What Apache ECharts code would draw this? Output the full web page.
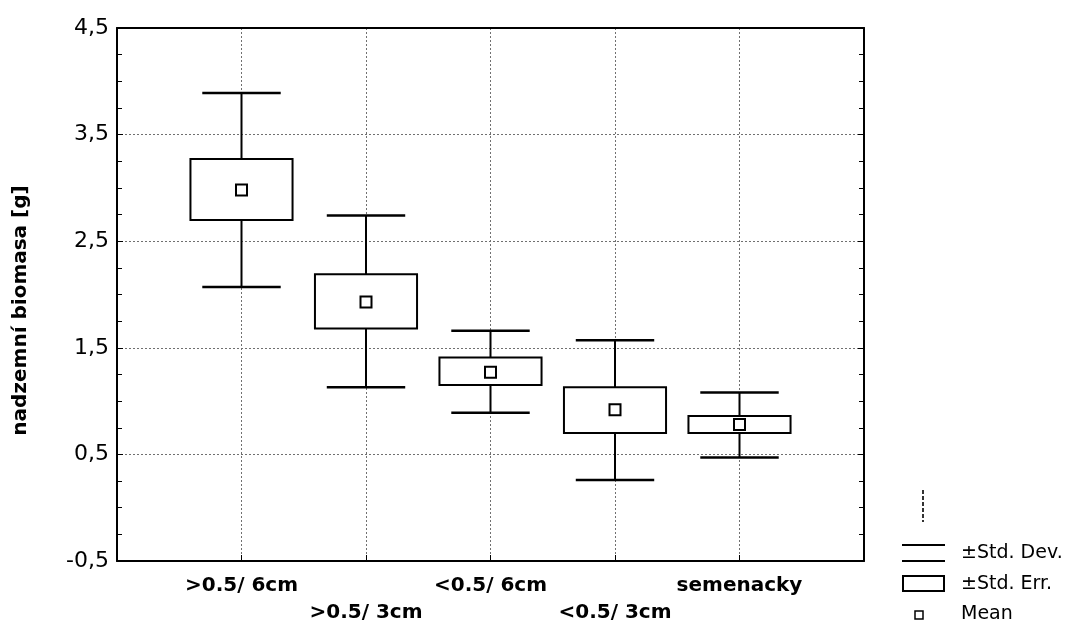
<!DOCTYPE html>
<html>
<head>
<meta charset="utf-8">
<script src="https://cdn.jsdelivr.net/npm/echarts@6/dist/echarts.min.js"></script>
<style>html,body{margin:0;padding:0;background:#fff}#c{width:1080px;height:630px}</style>
</head>
<body>
<div id="c"></div>
<script>
var categories = ['>0.5/ 6cm', '>0.5/ 3cm', '<0.5/ 6cm', '<0.5/ 3cm', 'semenacky'];
var means  = [2.98, 1.93, 1.27, 0.92, 0.78];
var seHigh = [3.27, 2.19, 1.41, 1.13, 0.86];
var seLow  = [2.70, 1.68, 1.15, 0.70, 0.70];
var sdHigh = [3.89, 2.74, 1.66, 1.57, 1.08];
var sdLow  = [2.07, 1.13, 0.89, 0.26, 0.47];
var yTicks = [-0.5, 0.5, 1.5, 2.5, 3.5, 4.5];

var FONT = '"DejaVu Sans", "Liberation Sans", Arial, sans-serif';
var data = categories.map(function (c, i) {
  return [i + 1, means[i], seLow[i], seHigh[i], sdLow[i], sdHigh[i]];
});

var chart = echarts.init(document.getElementById('c'));
var frameLine = { show: true, onZero: false, lineStyle: { color: '#000', width: 2 } };
var grid = { type: [2, 2], color: '#707070', width: 1 };
chart.setOption({
  animation: false,
  backgroundColor: '#fff',
  grid: { left: 117, right: 216, top: 28, bottom: 69 },
  xAxis: [{
    type: 'value', min: 0, max: 6, interval: 1, position: 'bottom',
    axisLine: frameLine,
    axisTick: { show: true, inside: true, length: 6, lineStyle: { color: '#000' } },
    splitLine: { show: true, lineStyle: grid },
    axisLabel: {
      margin: 11, lineHeight: 27, fontFamily: FONT, fontSize: 20, fontWeight: 'bold', color: '#000',
      formatter: function (v) {
        var i = Math.round(v) - 1;
        if (i < 0 || i >= categories.length) return '';
        return (i % 2 === 1 ? '\n' : '') + categories[i];
      }
    }
  }, {
    type: 'value', min: 0, max: 6, interval: 1, position: 'top',
    axisLine: frameLine,
    axisTick: { show: false }, axisLabel: { show: false }, splitLine: { show: false }
  }],
  yAxis: [{
    type: 'value', min: -0.5, max: 4.5, interval: 1, position: 'left',
    name: 'nadzemní biomasa [g]', nameLocation: 'middle', nameGap: 86,
    nameTextStyle: { fontFamily: FONT, fontSize: 20, fontWeight: 'bold', color: '#000', padding: [0, 32, 0, 0] },
    axisLine: frameLine,
    axisTick: { show: true, inside: true, length: 6, lineStyle: { color: '#000' } },
    minorTick: { show: true, splitNumber: 4, length: 5, lineStyle: { color: '#000' } },
    splitLine: { show: true, lineStyle: grid },
    axisLabel: {
      margin: 8, fontFamily: FONT, fontSize: 22, color: '#000',
      formatter: function (v) { return v.toFixed(1).replace('.', ','); }
    }
  }, {
    type: 'value', min: -0.5, max: 4.5, interval: 1, position: 'right',
    axisLine: frameLine,
    axisTick: { show: true, inside: true, length: 6, lineStyle: { color: '#000' } },
    minorTick: { show: true, splitNumber: 4, length: 5, lineStyle: { color: '#000' } },
    axisLabel: { show: false }, splitLine: { show: false }
  }],
  series: [{
    type: 'custom',
    xAxisIndex: 0, yAxisIndex: 0,
    data: data,
    z: 5,
    renderItem: function (params, api) {
      var x = api.value(0);
      var pm = api.coord([x, api.value(1)]);
      var pSeL = api.coord([x, api.value(2)]);
      var pSeH = api.coord([x, api.value(3)]);
      var pSdL = api.coord([x, api.value(4)]);
      var pSdH = api.coord([x, api.value(5)]);
      var boxHalf = api.size([0.41, 0])[0];
      var capHalf = api.size([0.315, 0])[0];
      var cx = pm[0];
      var st = { stroke: '#000', lineWidth: 2, fill: null };
      var sq = 11;
      return {
        type: 'group',
        children: [
          { type: 'line', shape: { x1: cx, y1: pSdH[1], x2: cx, y2: pSeH[1] }, style: st },
          { type: 'line', shape: { x1: cx, y1: pSeL[1], x2: cx, y2: pSdL[1] }, style: st },
          { type: 'line', shape: { x1: cx - capHalf, y1: pSdH[1], x2: cx + capHalf, y2: pSdH[1] }, style: { stroke: '#000', lineWidth: 2.5 } },
          { type: 'line', shape: { x1: cx - capHalf, y1: pSdL[1], x2: cx + capHalf, y2: pSdL[1] }, style: { stroke: '#000', lineWidth: 2.5 } },
          { type: 'rect', shape: { x: cx - boxHalf, y: pSeH[1], width: boxHalf * 2, height: pSeL[1] - pSeH[1] }, style: { stroke: '#000', lineWidth: 2, fill: '#fff' } },
          { type: 'rect', shape: { x: cx - sq / 2, y: pm[1] - sq / 2, width: sq, height: sq }, style: { stroke: '#000', lineWidth: 2, fill: '#fff' } }
        ]
      };
    }
  }],
  graphic: [
    { type: 'line', shape: { x1: 923, y1: 490, x2: 923, y2: 522 }, style: { stroke: '#333', lineWidth: 2, lineDash: [4, 2] } },
    { type: 'line', shape: { x1: 902, y1: 545, x2: 945, y2: 545 }, style: { stroke: '#000', lineWidth: 2 } },
    { type: 'line', shape: { x1: 902, y1: 561, x2: 945, y2: 561 }, style: { stroke: '#000', lineWidth: 2 } },
    { type: 'text', x: 961, y: 553, style: { text: '±Std. Dev.', font: '19px ' + FONT, fill: '#000', verticalAlign: 'middle' } },
    { type: 'rect', shape: { x: 903, y: 576, width: 41, height: 15 }, style: { stroke: '#000', lineWidth: 2, fill: '#fff' } },
    { type: 'text', x: 961, y: 584, style: { text: '±Std. Err.', font: '19px ' + FONT, fill: '#000', verticalAlign: 'middle' } },
    { type: 'rect', shape: { x: 915, y: 611, width: 8, height: 8 }, style: { stroke: '#000', lineWidth: 1.5, fill: '#fff' } },
    { type: 'text', x: 961, y: 614, style: { text: 'Mean', font: '19px ' + FONT, fill: '#000', verticalAlign: 'middle' } }
  ]
});
</script>
</body>
</html>
